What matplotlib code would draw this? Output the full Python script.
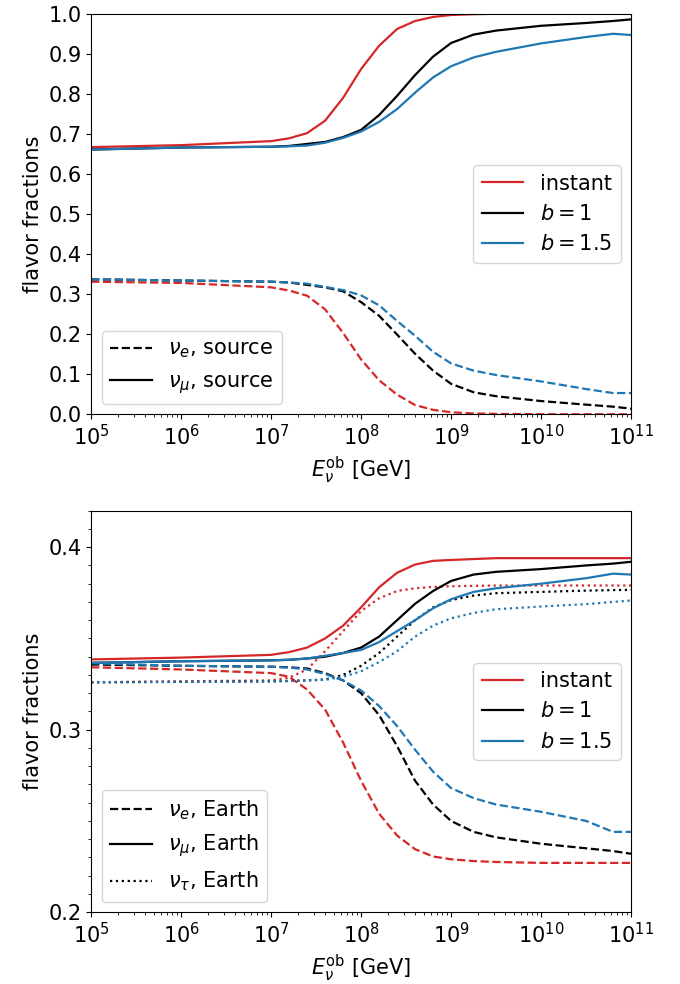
import matplotlib.pyplot as plt
import numpy as np
from matplotlib.lines import Line2D
from matplotlib.ticker import MultipleLocator

# log10 of observed neutrino energy [GeV]
log_energy = [5.0, 6.0, 7.0, 7.2, 7.4, 7.6, 7.8, 8.0, 8.2, 8.4,
              8.6, 8.8, 9.0, 9.25, 9.5, 10.0, 10.5, 10.8, 11.0]

model_labels = ["instant", "$b = 1$", "$b = 1.5$"]
model_colors = ["#d62728", "black", "#1f77b4"]

# flavor fractions at the source
source_mu_instant = [0.667, 0.672, 0.682, 0.689, 0.702, 0.733, 0.790, 0.862, 0.920, 0.962,
                     0.982, 0.992, 0.997, 0.999, 1.000, 1.000, 1.000, 1.000, 1.000]
source_mu_b1 = [0.661, 0.666, 0.668, 0.670, 0.675, 0.680, 0.692, 0.710, 0.747, 0.795,
                0.847, 0.893, 0.927, 0.948, 0.958, 0.970, 0.977, 0.982, 0.986]
source_mu_b15 = [0.661, 0.666, 0.668, 0.669, 0.671, 0.678, 0.690, 0.706, 0.730, 0.762,
                 0.803, 0.841, 0.869, 0.891, 0.905, 0.926, 0.942, 0.950, 0.947]
source_e_instant = [0.331, 0.328, 0.317, 0.309, 0.296, 0.262, 0.203, 0.137, 0.085, 0.049,
                    0.023, 0.011, 0.005, 0.002, 0.001, 0.000, 0.000, 0.000, 0.000]
source_e_b1 = [0.337, 0.334, 0.331, 0.329, 0.323, 0.317, 0.307, 0.280, 0.246, 0.199,
               0.151, 0.109, 0.076, 0.055, 0.045, 0.033, 0.024, 0.019, 0.014]
source_e_b15 = [0.337, 0.334, 0.331, 0.329, 0.326, 0.318, 0.310, 0.297, 0.272, 0.233,
                0.196, 0.156, 0.127, 0.109, 0.098, 0.082, 0.063, 0.053, 0.053]

# flavor fractions at Earth
earth_e_instant = [0.3342, 0.3330, 0.3310, 0.3290, 0.3220, 0.3110, 0.2930, 0.2720, 0.2540, 0.2420,
                   0.2345, 0.2305, 0.2290, 0.2280, 0.2275, 0.2270, 0.2270, 0.2270, 0.2270]
earth_e_b1 = [0.3357, 0.3350, 0.3345, 0.3342, 0.3335, 0.3310, 0.3270, 0.3200, 0.3080, 0.2910,
              0.2720, 0.2590, 0.2500, 0.2440, 0.2410, 0.2375, 0.2350, 0.2335, 0.2320]
earth_e_b15 = [0.3364, 0.3350, 0.3345, 0.3340, 0.3330, 0.3305, 0.3270, 0.3215, 0.3130, 0.3020,
               0.2890, 0.2770, 0.2680, 0.2625, 0.2590, 0.2550, 0.2500, 0.2440, 0.2440]
earth_mu_instant = [0.3385, 0.3395, 0.3410, 0.3425, 0.3450, 0.3500, 0.3570, 0.3670, 0.3780, 0.3860,
                    0.3905, 0.3925, 0.3930, 0.3935, 0.3940, 0.3940, 0.3940, 0.3940, 0.3940]
earth_mu_b1 = [0.3366, 0.3375, 0.3380, 0.3383, 0.3390, 0.3400, 0.3420, 0.3450, 0.3510, 0.3600,
               0.3690, 0.3760, 0.3815, 0.3850, 0.3865, 0.3880, 0.3900, 0.3910, 0.3920]
earth_mu_b15 = [0.3366, 0.3375, 0.3380, 0.3383, 0.3390, 0.3405, 0.3420, 0.3437, 0.3480, 0.3540,
                0.3600, 0.3665, 0.3715, 0.3755, 0.3775, 0.3800, 0.3830, 0.3855, 0.3850]
earth_tau_instant = [0.3260, 0.3265, 0.3270, 0.3285, 0.3330, 0.3430, 0.3540, 0.3650, 0.3720, 0.3760,
                     0.3775, 0.3782, 0.3786, 0.3788, 0.3790, 0.3790, 0.3790, 0.3790, 0.3790]
earth_tau_b1 = [0.3260, 0.3262, 0.3265, 0.3267, 0.3270, 0.3275, 0.3300, 0.3350, 0.3420, 0.3510,
                0.3600, 0.3670, 0.3710, 0.3735, 0.3748, 0.3755, 0.3762, 0.3765, 0.3766]
earth_tau_b15 = [0.3260, 0.3262, 0.3265, 0.3267, 0.3270, 0.3273, 0.3290, 0.3320, 0.3370, 0.3430,
                 0.3510, 0.3570, 0.3610, 0.3640, 0.3660, 0.3675, 0.3688, 0.3700, 0.3708]

plt.rcParams["font.size"] = 15
plt.rcParams["mathtext.fontset"] = "dejavusans"

energy = 10.0 ** np.array(log_energy)

fig = plt.figure(figsize=(6.8, 9.84), dpi=100)
ax_top = fig.add_axes([0.134, 0.579, 0.794, 0.407])
ax_bot = fig.add_axes([0.134, 0.073, 0.794, 0.408])

lw = 1.6
for mu, e, color in zip([source_mu_instant, source_mu_b1, source_mu_b15],
                        [source_e_instant, source_e_b1, source_e_b15], model_colors):
    ax_top.plot(energy, mu, color=color, lw=lw)
    ax_top.plot(energy, e, color=color, lw=lw, ls="--")

for e, mu, tau, color in zip([earth_e_instant, earth_e_b1, earth_e_b15],
                             [earth_mu_instant, earth_mu_b1, earth_mu_b15],
                             [earth_tau_instant, earth_tau_b1, earth_tau_b15], model_colors):
    ax_bot.plot(energy, e, color=color, lw=lw, ls="--")
    ax_bot.plot(energy, mu, color=color, lw=lw)
    ax_bot.plot(energy, tau, color=color, lw=lw, ls=":")

ax_top.set_ylim(0, 1)
ax_top.yaxis.set_major_locator(MultipleLocator(0.1))
ax_bot.set_ylim(0.2, 0.42)
ax_bot.yaxis.set_major_locator(MultipleLocator(0.1))
ax_bot.yaxis.set_minor_locator(MultipleLocator(0.01))

for ax in (ax_top, ax_bot):
    ax.set_xscale("log")
    ax.set_xlim(1e5, 1e11)
    ax.set_xlabel(r"$E_\nu^{\rm ob}$ [GeV]")
    ax.set_ylabel("flavor fractions")
    color_handles = [Line2D([], [], color=c, lw=lw) for c in model_colors]
    color_legend = ax.legend(color_handles, model_labels, loc="center right", fontsize=15)
    ax.add_artist(color_legend)

ax_top.legend([Line2D([], [], color="black", lw=lw, ls="--"),
               Line2D([], [], color="black", lw=lw)],
              [r"$\nu_e$, source", r"$\nu_\mu$, source"], loc="lower left", fontsize=15)
ax_bot.legend([Line2D([], [], color="black", lw=lw, ls="--"),
               Line2D([], [], color="black", lw=lw),
               Line2D([], [], color="black", lw=lw, ls=":")],
              [r"$\nu_e$, Earth", r"$\nu_\mu$, Earth", r"$\nu_\tau$, Earth"],
              loc="lower left", fontsize=15)

fig.savefig("out.png", dpi=100)
